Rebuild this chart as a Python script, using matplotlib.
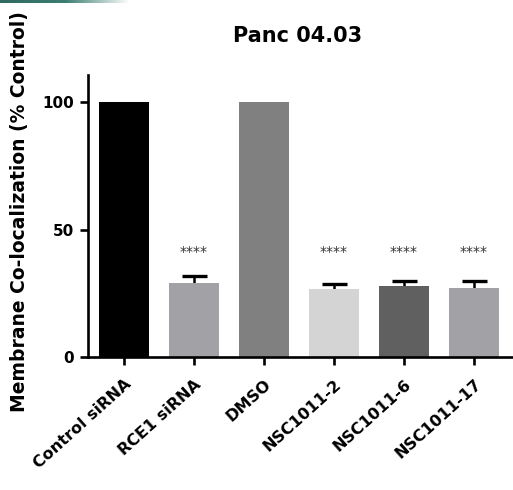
import matplotlib
matplotlib.use("Agg")
import matplotlib.pyplot as plt
import numpy as np
from matplotlib.colors import LinearSegmentedColormap
from matplotlib.transforms import ScaledTranslation

categories = ["Control siRNA", "RCE1 siRNA", "DMSO", "NSC1011-2", "NSC1011-6", "NSC1011-17"]
values = [100, 29.0, 100, 26.7, 27.8, 27.1]
errors = [0, 2.8, 0, 1.9, 2.0, 2.7]
stars = ["", "****", "", "****", "****", "****"]
colors = ["#000000", "#a2a1a6", "#808080", "#d4d4d4", "#606060", "#a2a1a6"]
yticks = [0, 50, 100]

plt.rcParams['font.family'] = ['DejaVu Sans']

fig = plt.figure(figsize=(5.13, 4.90), dpi=100)
ax = fig.add_axes([88/513, 1-357/490, 1-88/513, (357-75)/490])

x = np.arange(len(categories))
ax.bar(x, values, width=0.72, color=colors, zorder=2)
mask = np.array([e > 0 for e in errors])
ax.errorbar(x[mask], np.array(values)[mask], yerr=np.array(errors)[mask],
            fmt='none', ecolor='black', elinewidth=1.8, capsize=9, capthick=2.4, zorder=1)
for xi, s in zip(x, stars):
    if s:
        ax.text(xi, 41, s, ha='center', va='center', fontsize=10, color='#333333')

ax.set_xlim(-0.514, 5.557)
ax.set_ylim(0, 110.6)
ax.set_yticks(yticks)
ax.set_yticklabels([str(t) for t in yticks], fontsize=11, fontweight='bold')
ax.set_xticks(x)
ax.set_xticklabels(categories, rotation=42, ha='right', rotation_mode='anchor',
                   fontsize=11.5, fontweight='bold')
shift = ScaledTranslation(-7/100, -2/100, fig.dpi_scale_trans)
for lab in ax.get_xticklabels():
    lab.set_transform(lab.get_transform() + shift)
for sp in ['top', 'right']:
    ax.spines[sp].set_visible(False)
for sp in ['left', 'bottom']:
    ax.spines[sp].set_linewidth(1.9)
ax.tick_params(axis='both', width=1.9, length=6, direction='out')
ax.tick_params(axis='x', pad=8)
ax.tick_params(axis='y', pad=4)
fig.text(298/513, 1-36/490, "Panc 04.03", ha='center', va='center',
         fontsize=15, fontweight='bold')
fig.text(20/513, 1-212/490, "Membrane Co-localization (% Control)", rotation=90,
         ha='center', va='center', fontsize=13.5, fontweight='bold')

# decorative teal band at top-left
band = fig.add_axes([0, 1-3/490, 130/513, 3/490])
grad = np.linspace(0, 1, 256).reshape(1, -1)
cmap = LinearSegmentedColormap.from_list("t", ["#2f6a5e", "#3c7d70", "#ffffff"])
band.imshow(grad, aspect='auto', cmap=cmap)
band.axis('off')

fig.savefig("out.png", dpi=100)
